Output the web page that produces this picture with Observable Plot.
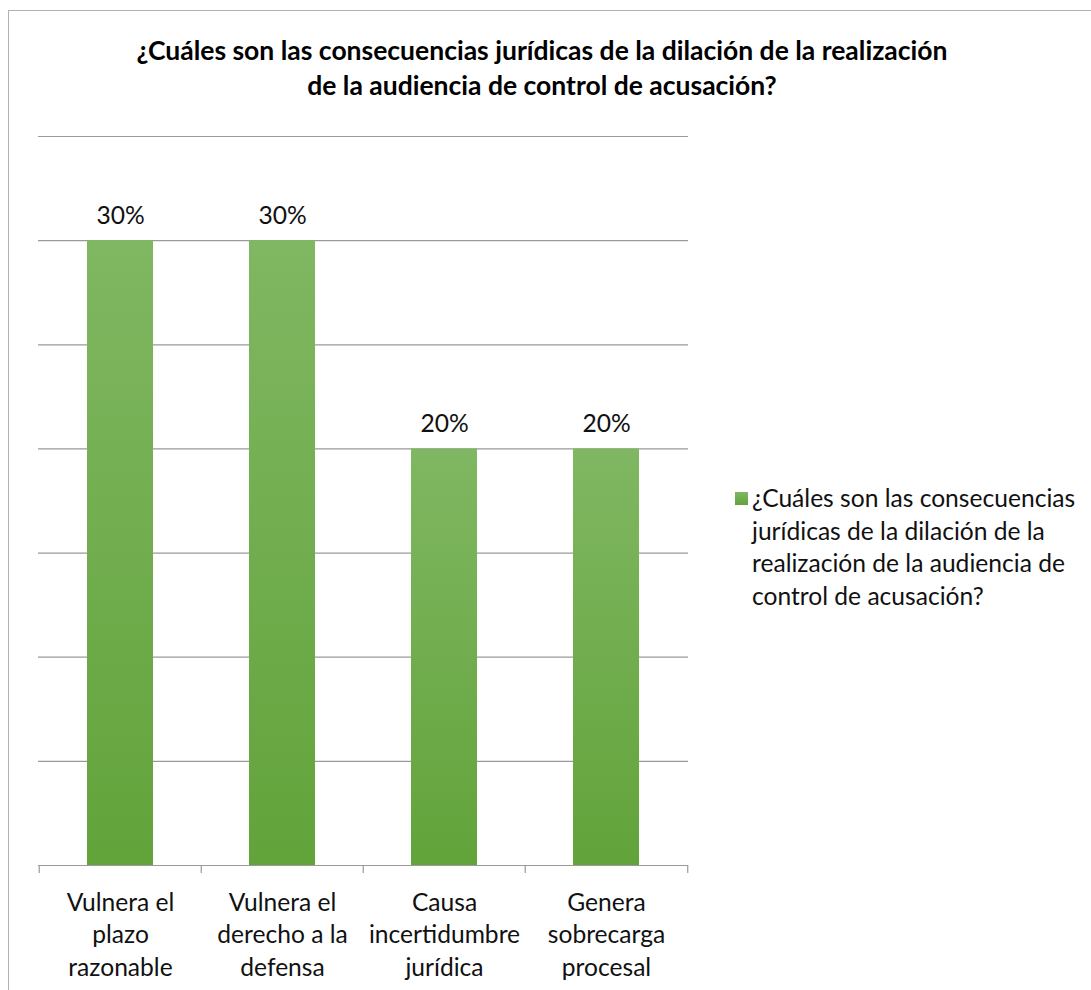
<!DOCTYPE html>
<html>
<head>
<meta charset="utf-8">
<script src="https://cdn.jsdelivr.net/npm/d3@7"></script>
<script src="https://cdn.jsdelivr.net/npm/@observablehq/plot@0.6"></script>
<style>
  html, body { margin: 0; padding: 0; background: #fff; }
  #wrap { position: relative; width: 1091px; height: 990px; overflow: hidden; font-family: Lato, "Open Sans", sans-serif; }
  #frame { position: absolute; left: 8px; top: 10px; width: 1200px; height: 1100px; border: 1.5px solid #b0b0b0; box-sizing: border-box; }
  #title { position: absolute; left: 0; top: 33px; width: 1084px; text-align: center; font-weight: bold; font-size: 26.5px; line-height: 35px; color: #000; }
  #chart { position: absolute; left: 0; top: 0; }
  #legend { position: absolute; left: 735px; top: 482px; font-size: 24.6px; line-height: 32.5px; color: #111; }
  #legend .sw { position: absolute; left: 0; top: 10px; width: 13px; height: 13px; background: linear-gradient(#80b762, #62a33a); }
  #legend .tx { position: absolute; left: 17px; top: 0; width: 360px; }
</style>
</head>
<body>
<div id="wrap">
  <div id="frame"></div>
  <div id="chart"></div>
  <div id="title">¿Cuáles son las consecuencias jurídicas de la dilación de la realización<br>de la audiencia de control de acusación?</div>
  <div id="legend"><div class="sw"></div><div class="tx">¿Cuáles son las consecuencias<br>jurídicas de la dilación de la<br>realización de la audiencia de<br>control de acusación?</div></div>
</div>
<script>
const categories = [
  "Vulnera el\nplazo\nrazonable",
  "Vulnera el\nderecho a la\ndefensa",
  "Causa\nincertidumbre\njurídica",
  "Genera\nsobrecarga\nprocesal"
];
const values = [30, 30, 20, 20];
const yTicks = [0, 5, 10, 15, 20, 25, 30, 35];
const seriesName = "¿Cuáles son las consecuencias jurídicas de la dilación de la realización de la audiencia de control de acusación?";

const data = categories.map((c, i) => ({category: c, value: values[i]}));

const W = 1091, H = 990;
const mL = 38, mR = W - 688, mT = 136, mB = H - 865;
const step = (W - mL - mR) / categories.length;

const chart = Plot.plot({
  width: W,
  height: H,
  marginLeft: mL,
  marginRight: mR,
  marginTop: mT,
  marginBottom: mB,
  style: {fontFamily: "Lato, 'Open Sans', sans-serif", background: "transparent", overflow: "visible"},
  x: {domain: categories, paddingInner: 0.595, paddingOuter: 0.2975, label: null, axis: null},
  y: {domain: [0, 35], axis: null, label: null},
  marks: [
    Plot.ruleY(yTicks, {stroke: "#9a9a9a", strokeWidth: 1.2}),
    Plot.barY(data, {x: "category", y: "value", fill: "url(#barGrad)", style: {filter: "drop-shadow(1px 1px 2px rgba(0,0,0,0.35))"}}),
    Plot.text(data, {x: "category", y: "value", text: d => d.value + "%", dy: -25, fontSize: 24.6, fill: "#111"}),
    Plot.ruleX(categories, {x: d => d, dx: -step / 2, y1: 0, y2: 0, stroke: "#9a9a9a", strokeWidth: 1.2, insetBottom: -8}),
    Plot.ruleX(categories.slice(-1), {x: d => d, dx: step / 2, y1: 0, y2: 0, stroke: "#9a9a9a", strokeWidth: 1.2, insetBottom: -8}),
    Plot.axisX({tickSize: 0, tickPadding: 22, fontSize: 24.6, lineHeight: 1.33, fill: "#111", label: null})
  ]
});

// gradient definition for bars
const svg = d3.select(chart);
const defs = svg.insert("defs", ":first-child");
const grad = defs.append("linearGradient").attr("id", "barGrad").attr("x1", 0).attr("y1", 0).attr("x2", 0).attr("y2", 1);
grad.append("stop").attr("offset", "0%").attr("stop-color", "#80b762");
grad.append("stop").attr("offset", "100%").attr("stop-color", "#62a33a");

document.getElementById("chart").appendChild(chart);
</script>
</body>
</html>
